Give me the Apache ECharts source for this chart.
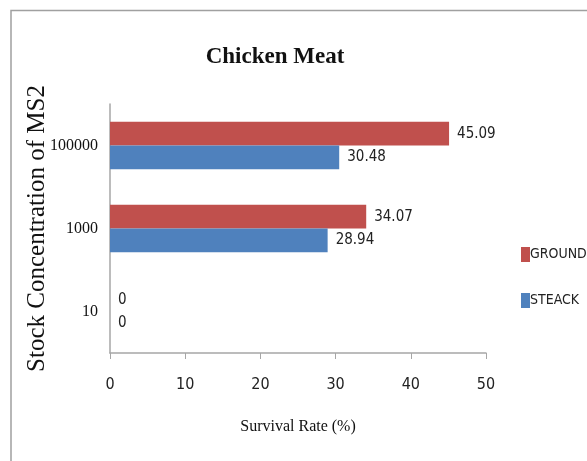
<!DOCTYPE html>
<html>
<head>
<meta charset="utf-8">
<script src="https://cdn.jsdelivr.net/npm/echarts@6/dist/echarts.min.js"></script>
<style>html,body{margin:0;padding:0;background:#fff;}#c{width:587px;height:461px;}</style>
</head>
<body>
<div id="c"></div>
<script>
var categories = ['10', '1000', '100000'];
var steackValues = [0, 28.94, 30.48];
var groundValues = [0, 34.07, 45.09];
var xTicks = [0, 10, 20, 30, 40, 50];

var narrow = 'DejaVu Sans Condensed, Liberation Sans, sans-serif';
var chart = echarts.init(document.getElementById('c'));
var labelStyle = {
  show: true, position: 'right', distance: 8,
  fontFamily: narrow, fontSize: 15, color: '#222'
};
chart.setOption({
  animation: false,
  backgroundColor: '#fff',
  title: {
    text: 'Chicken Meat', left: 270, top: 41, textAlign: 'center',
    textStyle: { fontFamily: 'Liberation Serif, serif', fontWeight: 'bold', fontSize: 23, color: '#111' }
  },
  graphic: [
    { type: 'polyline', shape: { points: [[11, 461], [11, 10.5], [587, 10.5]] }, style: { stroke: '#a0a0a0', lineWidth: 1.5, fill: null } }
  ],
  legend: {
    data: ['GROUND', 'STEACK'], orient: 'vertical', left: 516, top: 242,
    icon: 'rect', itemWidth: 9, itemHeight: 15, itemGap: 31,
    textStyle: { fontFamily: narrow, fontSize: 14, color: '#222', padding: [0, 0, 0, -5] }
  },
  grid: { left: 110, right: 101, top: 104, bottom: 108 },
  xAxis: {
    type: 'value', min: xTicks[0], max: xTicks[xTicks.length - 1], interval: 10,
    name: 'Survival Rate (%)', nameLocation: 'middle', nameGap: 66,
    nameTextStyle: { fontFamily: 'Liberation Serif, serif', fontSize: 16, color: '#111' },
    axisLine: { show: true, lineStyle: { color: '#a6a6a6', width: 1.5 } },
    axisTick: { show: true, length: 6, lineStyle: { color: '#a6a6a6' } },
    splitLine: { show: false },
    axisLabel: { margin: 24, fontFamily: narrow, fontSize: 16, color: '#222' }
  },
  yAxis: {
    type: 'category', data: categories,
    name: 'Stock Concentration of MS2', nameLocation: 'middle', nameGap: 60,
    nameMoveOverlap: false,
    nameTextStyle: { fontFamily: 'Liberation Serif, serif', fontSize: 25, color: '#111' },
    axisLine: { show: true, lineStyle: { color: '#a6a6a6', width: 1.5 } },
    axisTick: { show: false },
    axisLabel: { margin: 12, fontFamily: 'Liberation Serif, serif', fontSize: 16, color: '#111' }
  },
  series: [
    { name: 'GROUND', type: 'bar', data: groundValues, barGap: '0%', barCategoryGap: '43%',
      itemStyle: { color: '#C0504D' }, label: labelStyle },
    { name: 'STEACK', type: 'bar', data: steackValues, barGap: '0%', barCategoryGap: '43%',
      itemStyle: { color: '#4F81BD' }, label: labelStyle }
  ]
});
</script>
</body>
</html>
